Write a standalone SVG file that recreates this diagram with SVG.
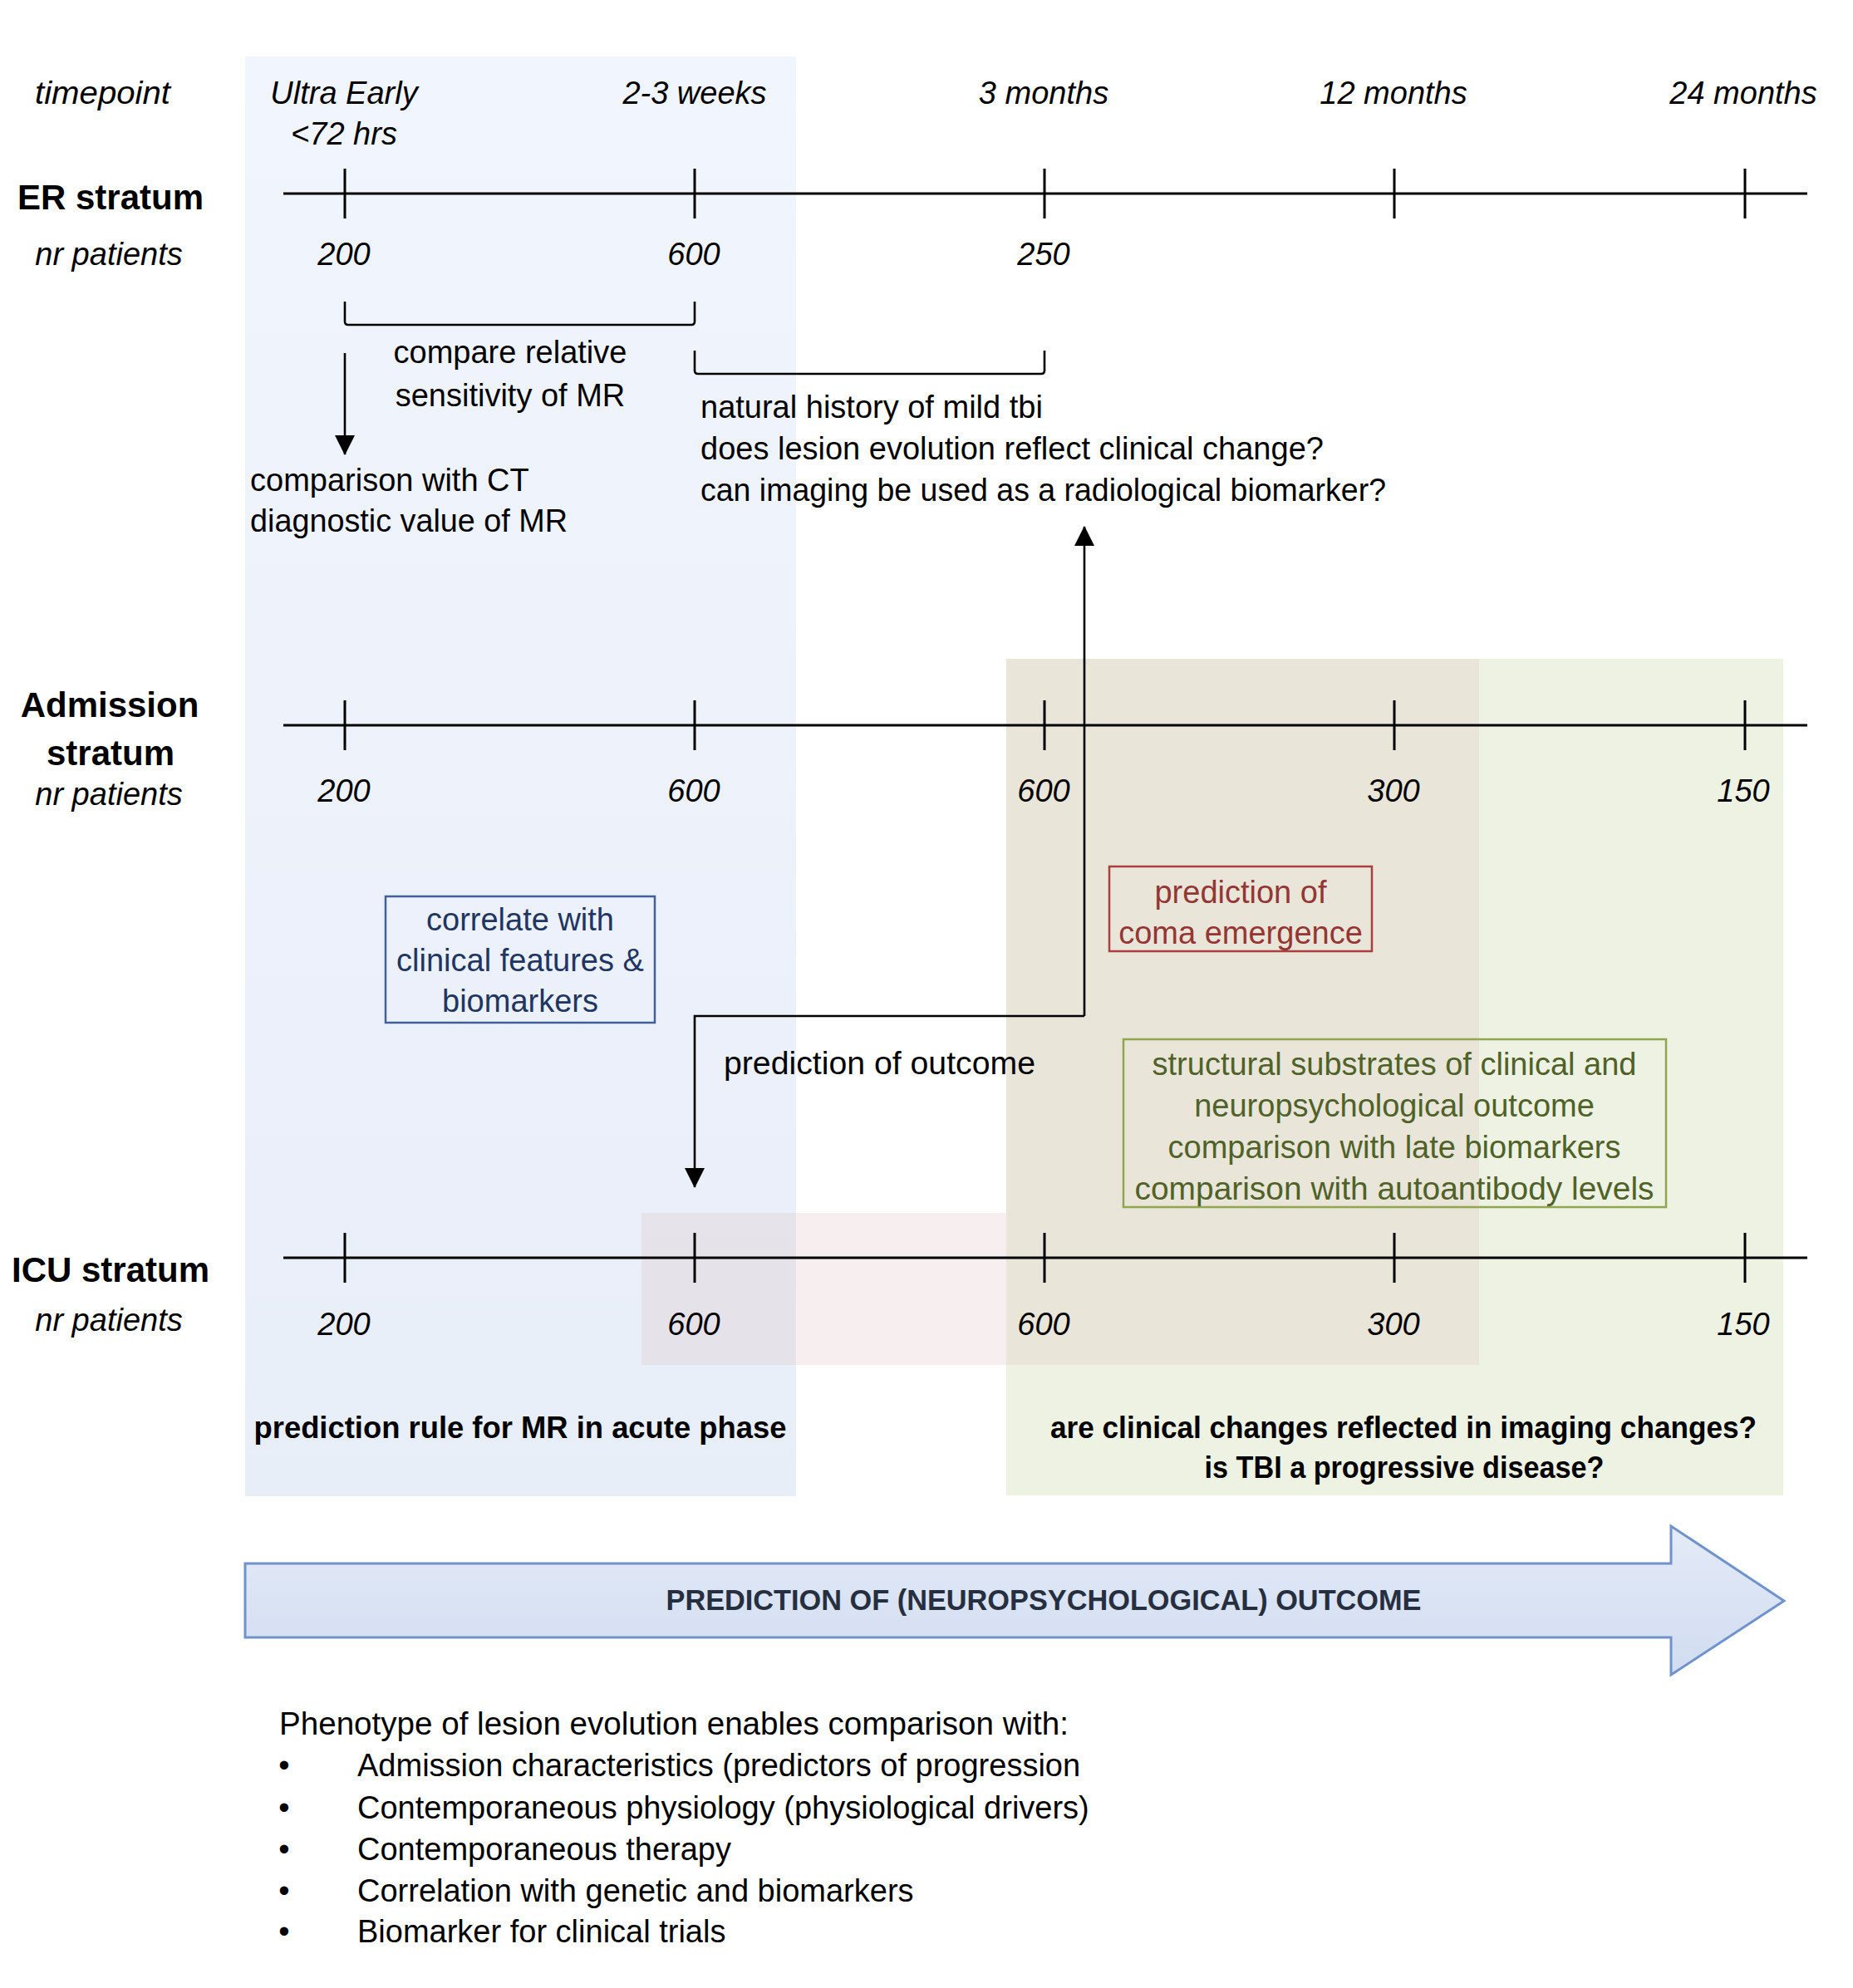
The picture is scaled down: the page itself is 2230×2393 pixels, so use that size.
<svg xmlns="http://www.w3.org/2000/svg" width="2230" height="2393" viewBox="0 0 2230 2393">
<defs>
<style>
.t{font-family:"Liberation Sans",Arial,sans-serif;font-size:38px;fill:#000}
.i{font-style:italic}
.b{font-weight:bold}
.s{font-size:42px}
.m{font-size:36px}
.c{text-anchor:middle}
.ln{stroke:#000;stroke-width:3;fill:none}
.cn{stroke:#000;stroke-width:2.6;fill:none}
.ov{fill:#DAB6B6;opacity:0.22}
</style>
<linearGradient id="gBlue" x1="0" y1="0" x2="0" y2="1">
<stop offset="0" stop-color="#F1F5FD"/>
<stop offset="1" stop-color="#E8EEF8"/>
</linearGradient>
<linearGradient id="gArrow" x1="0" y1="0" x2="0" y2="1">
<stop offset="0" stop-color="#E4EBF8"/>
<stop offset="1" stop-color="#D0DCF0"/>
</linearGradient>
<marker id="ah" markerWidth="24" markerHeight="24" refX="23" refY="12" orient="auto" markerUnits="userSpaceOnUse">
<path d="M0,0 L24,12 L0,24 z" fill="#000"/>
</marker>
</defs>
<rect x="0" y="0" width="2230" height="2393" fill="#fff"/>

<g id="regions">
<rect x="295" y="68" width="663" height="1733" fill="url(#gBlue)"/>
<rect x="1211" y="793" width="935" height="1007" fill="#EEF2E3"/>
<rect class="ov" x="772" y="1460" width="1008" height="183"/>
<rect class="ov" x="1211" y="793" width="569" height="667"/>
</g>

<g id="timepoints" class="t i">
<text x="42" y="125" textLength="163" lengthAdjust="spacingAndGlyphs">timepoint</text>
<text class="c" x="414" y="125">Ultra Early</text>
<text class="c" x="414" y="174">&lt;72 hrs</text>
<text class="c" x="836" y="125">2-3 weeks</text>
<text class="c" x="1256" y="125">3 months</text>
<text class="c" x="1677" y="125">12 months</text>
<text class="c" x="2098" y="125">24 months</text>
</g>

<g id="er-stratum">
<text class="t b s c" x="133" y="252">ER stratum</text>
<text class="t i c" x="131" y="319">nr patients</text>
<path class="ln" d="M341,233 H2175 M415,203 V263 M836,203 V263 M1257,203 V263 M1678,203 V263 M2100,203 V263"/>
<g class="t i c">
<text x="414" y="319">200</text>
<text x="835" y="319">600</text>
<text x="1256" y="319">250</text>
</g>
</g>

<g id="admission-stratum">
<text class="t b s c" x="132" y="863">Admission</text>
<text class="t b s c" x="133" y="921">stratum</text>
<text class="t i c" x="131" y="969">nr patients</text>
<path class="ln" d="M341,873 H2175 M415,843 V903 M836,843 V903 M1257,843 V903 M1678,843 V903 M2100,843 V903"/>
<g class="t i c">
<text x="414" y="965">200</text>
<text x="835" y="965">600</text>
<text x="1256" y="965">600</text>
<text x="1677" y="965">300</text>
<text x="2098" y="965">150</text>
</g>
</g>

<g id="icu-stratum">
<text class="t b s c" x="133" y="1543">ICU stratum</text>
<text class="t i c" x="131" y="1602">nr patients</text>
<path class="ln" d="M341,1514 H2175 M415,1484 V1544 M836,1484 V1544 M1257,1484 V1544 M1678,1484 V1544 M2100,1484 V1544"/>
<g class="t i c">
<text x="414" y="1607">200</text>
<text x="835" y="1607">600</text>
<text x="1256" y="1607">600</text>
<text x="1677" y="1607">300</text>
<text x="2098" y="1607">150</text>
</g>
</g>

<g id="connectors">
<path class="cn" d="M415,363 V387 Q415,391 419,391 H832 Q836,391 836,387 V363"/>
<path class="cn" d="M836,422 V446 Q836,450 840,450 H1253 Q1257,450 1257,446 V422"/>
<path class="cn" d="M415,425 V547" marker-end="url(#ah)"/>
<path class="cn" d="M1305,1223 V634" marker-end="url(#ah)"/>
<path class="cn" d="M1305,1223 H836 V1429" marker-end="url(#ah)"/>
</g>

<g id="compare-relative" class="t c">
<text x="614" y="437">compare relative</text>
<text x="614" y="489">sensitivity of MR</text>
</g>

<g id="comparison-ct" class="t">
<text x="301" y="591">comparison with CT</text>
<text x="301" y="640" textLength="382" lengthAdjust="spacingAndGlyphs">diagnostic value of MR</text>
</g>

<g id="natural-history" class="t">
<text x="843" y="503">natural history of mild tbi</text>
<text x="843" y="553">does lesion evolution reflect clinical change?</text>
<text x="843" y="603" textLength="825" lengthAdjust="spacingAndGlyphs">can imaging be used as a radiological biomarker?</text>
</g>

<g id="correlate-box">
<rect x="464" y="1079" width="324" height="152" fill="none" stroke="#41609A" stroke-width="2.5"/>
<g class="t c" style="fill:#1F3562">
<text x="626" y="1120">correlate with</text>
<text x="626" y="1169">clinical features &amp;</text>
<text x="626" y="1218">biomarkers</text>
</g>
</g>

<g id="coma-box">
<rect x="1335" y="1043" width="316" height="102" fill="none" stroke="#A8403E" stroke-width="2.5"/>
<g class="t c" style="fill:#943634">
<text x="1493" y="1087">prediction of</text>
<text x="1493" y="1136">coma emergence</text>
</g>
</g>

<g id="outcome-label">
<text class="t" x="871" y="1293" textLength="375" lengthAdjust="spacingAndGlyphs">prediction of outcome</text>
</g>

<g id="structural-box">
<rect x="1352" y="1251" width="653" height="202" fill="none" stroke="#8FA74E" stroke-width="2.5"/>
<g class="t c" style="fill:#4F6228">
<text x="1678" y="1294">structural substrates of clinical and</text>
<text x="1678" y="1344">neuropsychological outcome</text>
<text x="1678" y="1394">comparison with late biomarkers</text>
<text x="1678" y="1444" textLength="625" lengthAdjust="spacingAndGlyphs">comparison with autoantibody levels</text>
</g>
</g>

<g id="acute-question">
<text class="t b m c" x="626" y="1731" textLength="641" lengthAdjust="spacingAndGlyphs">prediction rule for MR in acute phase</text>
</g>

<g id="late-questions" class="t b m c">
<text x="1689" y="1731" textLength="850" lengthAdjust="spacingAndGlyphs">are clinical changes reflected in imaging changes?</text>
<text x="1690" y="1779" textLength="481" lengthAdjust="spacingAndGlyphs">is TBI a progressive disease?</text>
</g>

<g id="outcome-arrow">
<polygon points="295,1882 2011,1882 2011,1837 2147,1927 2011,2016 2011,1971 295,1971" fill="url(#gArrow)" stroke="#7093CB" stroke-width="3"/>
<text class="t b c" x="1256" y="1938" style="font-size:35px;fill:#262F40" textLength="909" lengthAdjust="spacingAndGlyphs">PREDICTION OF (NEUROPSYCHOLOGICAL) OUTCOME</text>
</g>

<g id="phenotype-list" class="t">
<text x="336" y="2088" textLength="950" lengthAdjust="spacingAndGlyphs">Phenotype of lesion evolution enables comparison with:</text>
<text class="c" x="342" y="2138">•</text>
<text x="430" y="2138">Admission characteristics (predictors of progression</text>
<text class="c" x="342" y="2189">•</text>
<text x="430" y="2189">Contemporaneous physiology (physiological drivers)</text>
<text class="c" x="342" y="2239">•</text>
<text x="430" y="2239">Contemporaneous therapy</text>
<text class="c" x="342" y="2289">•</text>
<text x="430" y="2289">Correlation with genetic and biomarkers</text>
<text class="c" x="342" y="2338">•</text>
<text x="430" y="2338">Biomarker for clinical trials</text>
</g>
</svg>
